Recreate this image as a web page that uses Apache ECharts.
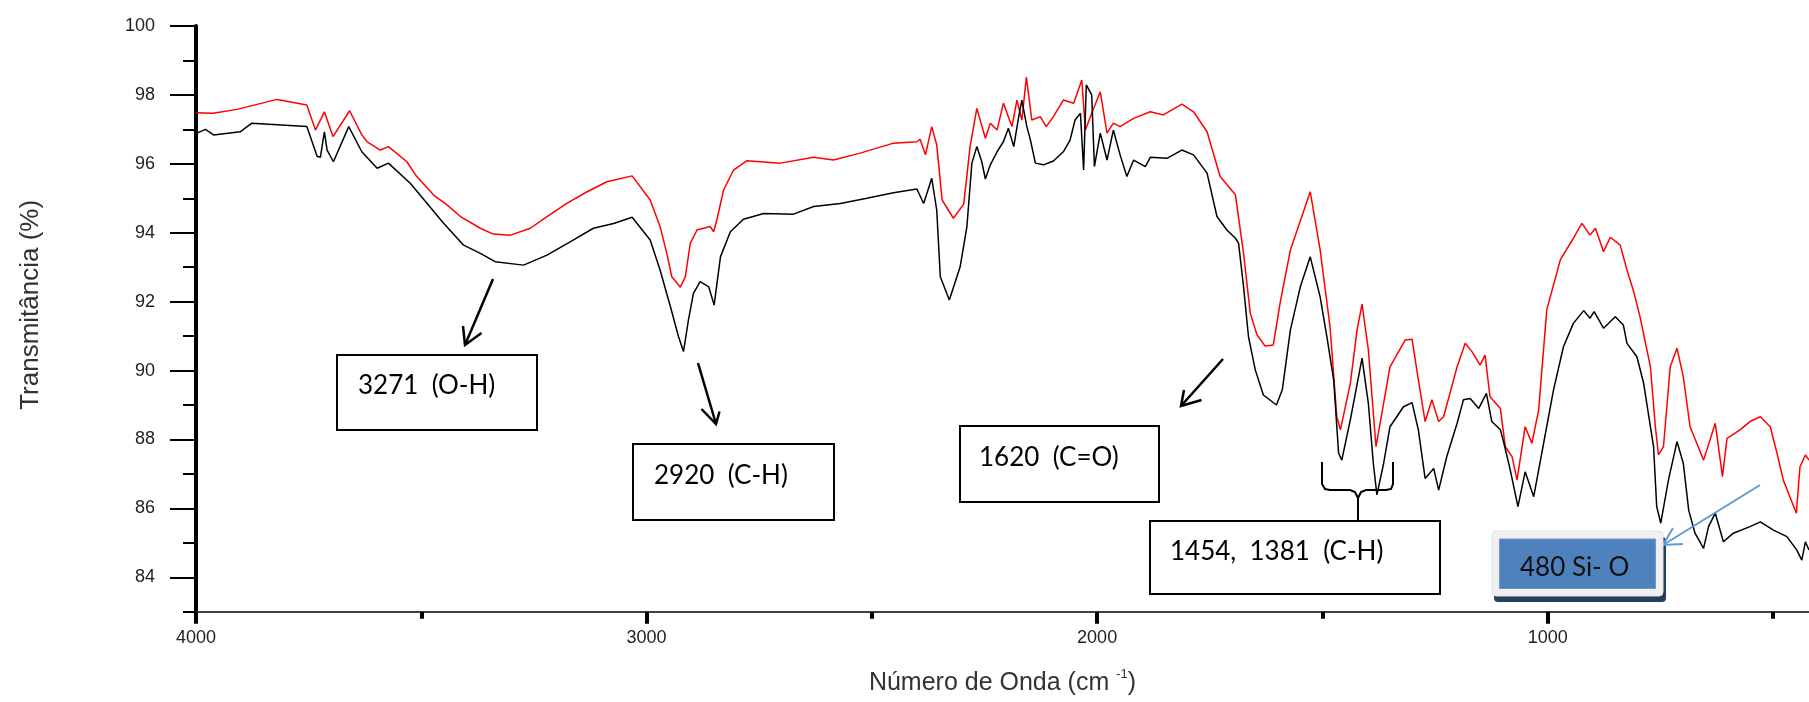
<!DOCTYPE html>
<html lang="pt">
<head>
<meta charset="UTF-8">
<title>Espectro FTIR</title>
<script src="https://cdn.jsdelivr.net/npm/echarts@6.0.0/dist/echarts.min.js"></script>
<style>
  html, body { margin: 0; padding: 0; background: #fff; }
  #chart { width: 1809px; height: 702px; }
</style>
</head>
<body>
<div id="chart"></div>
<script>
  // espectro superior (vermelho)
  const waveRed = [3999,3962,3909,3820,3754,3735,3715,3696,3659,3632,3620,3591,3573,3532,3510,3473,3443,3413,3369,3340,
    3302,3258,3221,3177,3132,3088,3032,2992,2970,2955,2944,2925,2914,2903,2888,2859,2851,2844,2829,2807,
    2777,2703,2629,2585,2526,2452,2400,2393,2381,2367,2356,2344,2319,2296,2282,2267,2248,2237,2222,2208,
    2189,2178,2167,2157,2145,2126,2113,2097,2075,2052,2034,2026,2012,1993,1978,1964,1949,1919,1882,1853,
    1812,1786,1756,1727,1693,1675,1660,1645,1627,1609,1594,1571,1527,1505,1483,1468,1460,1438,1423,1412,
    1398,1381,1350,1316,1301,1287,1272,1257,1242,1231,1201,1183,1168,1150,1139,1128,1105,1094,1079,1068,
    1050,1035,1020,1002,972,943,924,906,894,876,861,839,824,809,795,772,761,754,743,728,
    713,699,684,669,654,628,612,602,573,551,528,506,491,477,448,440,428,420];
  const transRed = [97.48,97.47,97.58,97.87,97.71,96.98,97.51,96.79,97.54,96.84,96.64,96.40,96.50,96.06,95.63,95.10,94.81,94.47,94.13,93.96,
    93.93,94.13,94.47,94.85,95.19,95.48,95.65,94.95,94.18,93.40,92.72,92.42,92.72,93.69,94.08,94.18,94.03,94.37,95.24,95.82,
    96.09,96.02,96.19,96.11,96.31,96.60,96.64,96.71,96.26,97.08,96.55,94.95,94.42,94.83,96.50,97.61,96.74,97.18,96.98,97.76,
    97.08,97.85,97.27,98.52,97.27,97.37,97.08,97.37,97.85,97.76,98.43,96.98,97.47,98.09,96.89,97.18,97.08,97.32,97.51,97.42,
    97.73,97.51,96.93,95.63,95.10,93.40,91.66,91.03,90.71,90.74,91.95,93.50,95.19,93.50,91.27,88.66,88.28,89.63,91.18,91.93,
    90.60,87.79,90.11,90.89,90.91,89.73,88.52,89.15,88.52,88.66,90.11,90.79,90.55,90.16,90.45,89.24,88.90,87.79,87.50,86.82,
    88.37,87.89,88.86,91.76,93.21,93.84,94.27,93.93,94.13,93.45,93.87,93.64,92.92,92.29,91.56,90.11,88.37,87.55,87.79,90.11,
    90.65,89.82,88.37,87.89,87.40,88.47,86.92,88.03,88.28,88.52,88.66,88.37,87.60,86.82,85.86,87.21,87.55,87.40];

  // espectro inferior (preto)
  const waveBlack = [3998,3979,3961,3902,3876,3754,3731,3724,3715,3709,3695,3661,3632,3598,3573,3524,3487,3450,3406,3369,
    3336,3273,3221,3162,3118,3073,3032,2992,2970,2947,2929,2918,2907,2896,2881,2862,2850,2836,2814,2785,
    2740,2674,2629,2570,2511,2452,2400,2385,2367,2356,2348,2328,2304,2289,2278,2267,2256,2248,2237,2222,
    2208,2197,2185,2174,2167,2156,2148,2137,2119,2097,2075,2060,2049,2037,2030,2024,2012,2006,1993,1978,
    1964,1949,1934,1919,1893,1882,1845,1812,1786,1756,1734,1712,1693,1686,1675,1664,1649,1631,1602,1589,
    1571,1549,1527,1505,1490,1475,1464,1457,1438,1412,1398,1387,1379,1364,1350,1320,1301,1287,1272,1253,
    1242,1224,1201,1187,1172,1153,1136,1124,1105,1098,1083,1066,1050,1031,1009,987,965,943,920,906,
    897,876,850,832,824,802,787,772,765,758,749,732,713,699,687,673,654,643,628,610,
    588,551,528,499,469,447,436,428,420];
  const transBlack = [96.89,97.00,96.84,96.93,97.18,97.08,96.21,96.19,96.93,96.40,96.06,97.08,96.35,95.87,96.02,95.43,94.85,94.27,93.64,93.40,
    93.16,93.06,93.35,93.79,94.13,94.27,94.45,93.79,92.92,91.85,90.98,90.55,91.47,92.24,92.58,92.43,91.90,93.30,94.03,94.39,
    94.56,94.54,94.76,94.85,95.00,95.16,95.27,94.85,95.58,94.66,92.72,92.05,93.01,94.18,96.02,96.50,96.06,95.56,95.97,96.35,
    96.64,97.03,96.50,97.37,97.85,97.08,96.69,96.02,95.97,96.08,96.35,96.69,97.27,97.47,95.82,98.29,98.00,95.92,96.89,96.11,
    96.98,96.26,95.63,96.11,95.92,96.19,96.16,96.40,96.26,95.73,94.47,94.08,93.84,93.69,92.43,90.98,90.02,89.29,89.00,89.44,
    91.18,92.43,93.30,92.14,90.98,89.73,87.60,87.40,88.57,90.36,89.05,87.31,86.39,87.31,88.37,88.95,89.07,88.28,86.87,87.16,
    86.53,87.50,88.47,89.15,89.19,88.90,89.34,88.52,88.28,87.94,87.11,86.05,87.06,86.34,87.89,89.44,90.69,91.37,91.74,91.52,
    91.71,91.23,91.56,91.32,90.79,90.40,89.63,88.37,87.79,86.05,85.57,86.82,87.94,87.31,85.95,85.28,84.84,85.47,85.86,85.03,
    85.28,85.47,85.61,85.37,85.18,84.79,84.50,85.03,84.79];

  // eixos
  const majorWave = [4000, 3000, 2000, 1000];
  const minorWave = [3500, 2500, 1500, 500];
  const yLabels = [84, 86, 88, 90, 92, 94, 96, 98, 100];

  const chart = echarts.init(document.getElementById('chart'));

  const axisFont = 'Liberation Sans';

  // caixas de anotação
  function box(x, y, w, h) {
    return { type: 'rect', z: 100, shape: { x: x, y: y, width: w, height: h },
      style: { fill: '#fff', stroke: '#000', lineWidth: 2 } };
  }
  function note(text, x, y) {
    return { type: 'text', z: 101, x: x, y: y,
      style: { text: text, font: '26px Lato', fill: '#000', verticalAlign: 'middle' } };
  }
  function arrow(x1, y1, x2, y2, head, color, w) {
    return [
      { type: 'line', z: 100, shape: { x1: x1, y1: y1, x2: x2, y2: y2 }, style: { stroke: color, lineWidth: w } },
      { type: 'polyline', z: 100, shape: { points: head }, style: { stroke: color, lineWidth: w, fill: null } }
    ];
  }

  const graphics = [
    box(337, 355, 200, 75), note('3271  (O-H)', 358, 386),
    box(633, 444, 201, 76), note('2920  (C-H)', 654, 476),
    box(960, 426, 199, 76), note('1620  (C=O)', 979, 458),
    box(1150, 521, 290, 73), note('1454,  1381  (C-H)', 1170, 552),
    ...arrow(493, 279, 465, 345, [[481.5, 333], [465, 345], [463, 326]], '#000', 2.5),
    ...arrow(698, 363, 716, 424, [[701.5, 409], [716, 424], [719.5, 411.5]], '#000', 2.5),
    ...arrow(1223, 359, 1181, 406, [[1201.5, 400], [1181, 406], [1184, 390]], '#000', 2.5),
    // chave
    { type: 'polyline', z: 100, shape: { points: [[1322, 462], [1322, 484], [1325, 489], [1330, 490], [1350, 490], [1355, 492], [1358, 498], [1358, 521]] },
      style: { stroke: '#000', lineWidth: 2, fill: null } },
    { type: 'polyline', z: 100, shape: { points: [[1358, 498], [1361, 492], [1366, 490], [1386, 490], [1391, 489], [1393, 484], [1393, 462]] },
      style: { stroke: '#000', lineWidth: 2, fill: null } },
    // caixa Si-O
    { type: 'rect', z: 100, shape: { x: 1494, y: 537, width: 172, height: 65, r: 4 }, style: { fill: '#243f60' } },
    { type: 'rect', z: 101, shape: { x: 1492, y: 531, width: 171, height: 65, r: 4 }, style: { fill: '#f0f0f0', stroke: '#e2e2e2', lineWidth: 1 } },
    { type: 'rect', z: 102, shape: { x: 1499.5, y: 539, width: 156, height: 49.5 }, style: { fill: '#4f81bd', stroke: '#6f97c9', lineWidth: 1 } },
    { type: 'text', z: 103, x: 1520, y: 568, style: { text: '480 Si- O', font: '26px Lato', fill: '#111', verticalAlign: 'middle' } },
    ...arrow(1760, 485, 1663, 545, [[1673, 528], [1663, 545], [1683, 544]], '#5b9bd5', 2)
  ];

  const option = {
    backgroundColor: '#fff',
    animation: false,
    grid: { left: 196, top: 26, width: 1613, height: 585.75 },
    xAxis: [
      {
        type: 'value', min: 420, max: 4000, inverse: true, position: 'bottom',
        name: '{t|Número de Onda (cm }{s|-1}{t|)}',
        nameLocation: 'middle', nameGap: 56,
        nameTextStyle: {
          rich: {
            t: { fontFamily: axisFont, fontSize: 25, color: '#333', lineHeight: 30 },
            s: { fontFamily: axisFont, fontSize: 13, color: '#333', verticalAlign: 'top', lineHeight: 14 }
          }
        },
        axisLine: { show: true, lineStyle: { color: '#404040', width: 2 } },
        axisTick: { show: true, customValues: majorWave, length: 12, lineStyle: { color: '#000', width: 4 } },
        axisLabel: { customValues: majorWave, formatter: v => String(v), margin: 17, fontFamily: axisFont, fontSize: 18, color: '#222' },
        splitLine: { show: false }
      },
      {
        type: 'value', min: 420, max: 4000, inverse: true, position: 'bottom',
        axisLine: { show: false },
        axisTick: { show: true, customValues: minorWave, length: 7, lineStyle: { color: '#000', width: 4 } },
        axisLabel: { show: false },
        splitLine: { show: false }
      }
    ],
    yAxis: [
      {
        type: 'value', min: 83, max: 100, interval: 1, position: 'left',
        name: 'Transmitância (%)', nameLocation: 'middle', nameGap: 152,
        nameTextStyle: { fontFamily: axisFont, fontSize: 26, color: '#333', padding: [0, 0, 0, 28] },
        axisLine: { show: true, lineStyle: { color: '#000', width: 4 } },
        axisTick: { show: true, length: 13, lineStyle: { color: '#000', width: 2 } },
        axisLabel: { customValues: yLabels, formatter: v => String(v), margin: 41, fontFamily: axisFont, fontSize: 18, color: '#222' },
        splitLine: { show: false }
      },
      {
        type: 'value', min: 83, max: 100, position: 'left',
        axisLine: { show: false },
        axisTick: { show: true, customValues: yLabels, length: 26, lineStyle: { color: '#000', width: 2 } },
        axisLabel: { show: false },
        splitLine: { show: false }
      }
    ],
    series: [
      {
        name: 'vermelho', type: 'line', showSymbol: false, silent: true,
        data: waveRed.map((w, i) => [w, transRed[i]]),
        lineStyle: { color: '#ff0000', width: 1.5 }
      },
      {
        name: 'preto', type: 'line', showSymbol: false, silent: true,
        data: waveBlack.map((w, i) => [w, transBlack[i]]),
        lineStyle: { color: '#000', width: 1.5 }
      }
    ],
    graphic: graphics
  };

  chart.setOption(option);
</script>
</body>
</html>
